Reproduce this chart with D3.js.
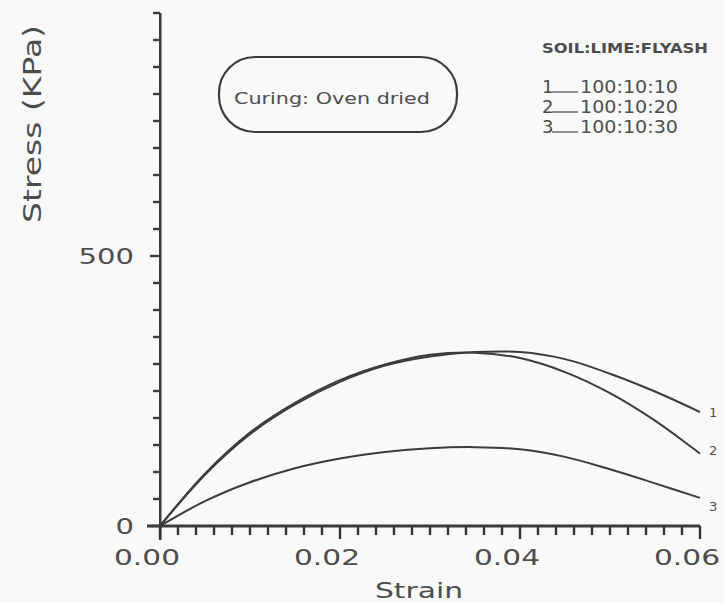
<!DOCTYPE html>
<html>
<head>
<meta charset="utf-8">
<script src="https://cdn.jsdelivr.net/npm/d3@7/dist/d3.min.js"></script>
<style>
  html, body { margin: 0; padding: 0; background: #f9f9f9; }
  svg { display: block; }
  text { font-family: "DejaVu Sans", "Liberation Sans", sans-serif; fill: #4d4d4d; }
</style>
</head>
<body>
<svg id="chart" width="724" height="603"></svg>
<script>
// Strain sampling points shared by all three mixes
const strain = [0, 0.005, 0.01, 0.015, 0.02, 0.025, 0.03, 0.035, 0.04, 0.045, 0.05, 0.055, 0.06];

// Stress (KPa) for each soil:lime:flyash mix, oven-dried curing
const stress1 = [0, 95, 170, 225, 267, 297, 314, 322, 322, 309, 282, 249, 211];
const stress2 = [0, 97, 173, 228, 270, 299, 317, 321, 311, 285, 246, 195, 134];
const stress3 = [0, 46, 81, 107, 125, 137, 144, 146, 142, 128, 105, 79, 52];

const seriesNames = ["1", "2", "3"];
const mixRatios = ["100:10:10", "100:10:20", "100:10:30"];

const xMajorTicks = [0, 0.02, 0.04, 0.06];
const xTickLabels = ["0.00", "0.02", "0.04", "0.06"];
const yMajorTicks = [0, 500];
const yTickLabels = ["0", "500"];

const ink = "#3c3c3c";
const svg = d3.select("#chart");

const x = d3.scaleLinear().domain([0, 0.06]).range([160, 700]);
const y = d3.scaleLinear().domain([0, 950]).range([526, 13]);

// Axis lines
svg.append("rect").attr("x", 159).attr("y", y(950)).attr("width", 2.5).attr("height", 540 - y(950))
  .attr("fill", ink);
svg.append("rect").attr("x", 147).attr("y", y(0) - 1.5).attr("width", x(0.06) - 147).attr("height", 3)
  .attr("fill", ink);

// Strain ticks every 0.002, longer at the labelled values
const xTicks = d3.range(0, 31).map(i => i * 0.002);
const isMajorX = d => xMajorTicks.some(m => Math.abs(m - d) < 1e-9);
svg.append("g").selectAll("rect").data(xTicks).join("rect")
  .attr("x", d => x(d) - 1.2).attr("y", y(0))
  .attr("width", 2.4).attr("height", d => isMajorX(d) ? 13 : 9)
  .attr("fill", "#333");

// Stress ticks every 50
const yTicks = d3.range(0, 951, 50);
svg.append("g").selectAll("rect").data(yTicks).join("rect")
  .attr("x", d => 160 - (yMajorTicks.includes(d) ? 10 : 7)).attr("y", d => y(d) - 1.2)
  .attr("width", d => yMajorTicks.includes(d) ? 10 : 7).attr("height", 2.4)
  .attr("fill", ink);

// Tick labels
svg.append("g").selectAll("text").data(xMajorTicks).join("text")
  .attr("x", d => x(d) - 13).attr("y", 565)
  .attr("text-anchor", "middle").attr("font-size", 21)
  .attr("textLength", 66).attr("lengthAdjust", "spacingAndGlyphs")
  .text((d, i) => xTickLabels[i]);
svg.append("g").selectAll("text").data(yMajorTicks).join("text")
  .attr("x", 134).attr("y", d => y(d) + 8)
  .attr("text-anchor", "end").attr("font-size", 22)
  .attr("textLength", (d, i) => yTickLabels[i].length * 18.5).attr("lengthAdjust", "spacingAndGlyphs")
  .text((d, i) => yTickLabels[i]);

// Axis titles
svg.append("text").attr("x", 419).attr("y", 598).attr("text-anchor", "middle")
  .attr("font-size", 21).attr("textLength", 88).attr("lengthAdjust", "spacingAndGlyphs")
  .text("Strain");
svg.append("text").attr("transform", "translate(41,124) rotate(-90)").attr("text-anchor", "middle")
  .attr("font-size", 24).attr("textLength", 198).attr("lengthAdjust", "spacingAndGlyphs")
  .text("Stress (KPa)");

// Stress-strain curves
const allSeries = [stress1, stress2, stress3];
const line = d3.line().x((d, i) => x(strain[i])).y(d => y(d)).curve(d3.curveCatmullRom.alpha(0.5));
svg.append("g").selectAll("path").data(allSeries).join("path")
  .attr("d", d => line(d)).attr("fill", "none")
  .attr("stroke", ink).attr("stroke-width", 2);

// Curve end labels
const endOffsets = [0, -4, 8];
svg.append("g").selectAll("text").data(allSeries).join("text")
  .attr("x", 709).attr("y", (d, i) => y(d[d.length - 1]) + 5 + endOffsets[i])
  .attr("font-size", 13).text((d, i) => seriesNames[i]);

// Curing condition box
svg.append("rect").attr("x", 219).attr("y", 57).attr("width", 238).attr("height", 75)
  .attr("rx", 36).attr("ry", 36).attr("fill", "none")
  .attr("stroke", ink).attr("stroke-width", 2.2);
svg.append("text").attr("x", 332).attr("y", 104).attr("text-anchor", "middle")
  .attr("font-size", 15).attr("textLength", 196).attr("lengthAdjust", "spacingAndGlyphs")
  .text("Curing: Oven dried");

// Mix legend
svg.append("text").attr("x", 542).attr("y", 53).attr("font-size", 14).attr("font-weight", "bold")
  .attr("textLength", 166).attr("lengthAdjust", "spacingAndGlyphs")
  .text("SOIL:LIME:FLYASH");
const legend = svg.append("g").selectAll("g").data(seriesNames).join("g")
  .attr("transform", (d, i) => `translate(0,${93 + i * 20})`);
legend.append("text").attr("x", 542).attr("y", 0).attr("font-size", 18).text(d => d);
legend.append("line").attr("x1", 552).attr("x2", 578).attr("y1", -1).attr("y2", -1)
  .attr("stroke", "#6a6a6a").attr("stroke-width", 1.5);
legend.append("text").attr("x", 580).attr("y", 0).attr("font-size", 18)
  .attr("textLength", 98).attr("lengthAdjust", "spacingAndGlyphs")
  .text((d, i) => mixRatios[i]);
</script>
</body>
</html>
